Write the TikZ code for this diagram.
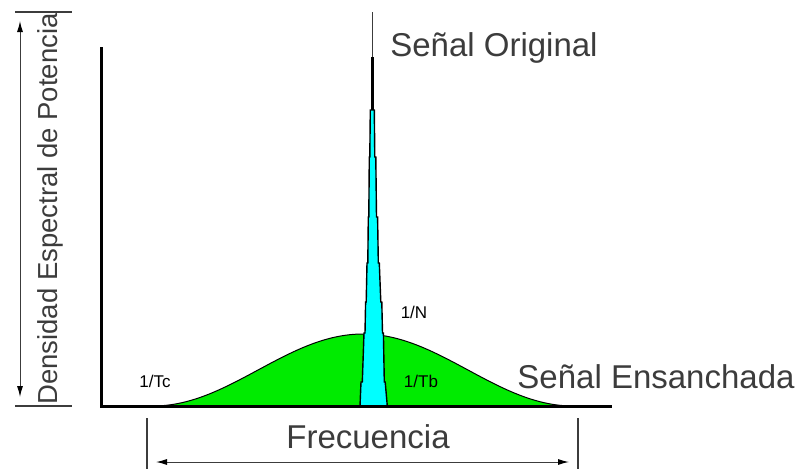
\documentclass[tikz,border=0pt]{standalone}
\usepackage{fontspec}
\setmainfont{Liberation Sans}
\usepackage{tikz}
\usetikzlibrary{positioning, arrows.meta}
\usepackage{xcolor}
\definecolor{bellgreen}{RGB}{0,235,0}
\definecolor{spikecyan}{RGB}{0,255,255}
\definecolor{labelgray}{RGB}{60,60,60}

\tikzset{
  bigtext/.style={text=labelgray, font=\fontsize{33}{38}\selectfont, inner sep=0pt},
  smalltext/.style={text=black, font=\fontsize{17}{20}\selectfont, inner sep=0pt},
  dimtick/.style={labelgray, line width=1.6pt},
  dimline/.style={labelgray, line width=1pt, {Latex[length=11pt,width=6pt,black]}-{Latex[length=11pt,width=6pt,black]}}
}

\begin{document}
\begin{tikzpicture}[x=1pt, y=-1pt]
	\useasboundingbox (0,0) rectangle (801,469);
	% Curve
	\draw[fill=bellgreen, line width=1pt] plot[domain=153:573, samples=90, smooth] (\x, {406-36*(1+cos((\x-363)*6/7))});
	% Spike
	\draw[fill=spikecyan, line width=1.4pt] (360,406) -- (361,382) -- (362.3,382) -- (364,333) -- (365,333) -- (365.6,302) -- (366.2,302)
		-- (367,263) -- (367.8,263) -- (368.3,217) -- (368.8,217) -- (369.3,157) -- (369.8,157) -- (370.3,110)
		-- (374.3,110) -- (374.8,157) -- (375.8,157) -- (376.5,217) -- (377.6,217) -- (378.3,263) -- (379.3,263)
		-- (380.8,302) -- (381.8,302) -- (382.5,333) -- (383.4,333) -- (384.3,382) -- (385.2,382) -- (387.3,406) -- cycle;
	\draw[line width=2.5pt] (372.3,110) -- (372.3,57);
	\draw[labelgray, line width=1pt] (372.3,57) -- (372.3,12);
	% Axes
	\draw[line width=3pt] (101,47) -- (101,406) -- (612,406);
	% Left dimension
	\coordinate (ytop) at (20,12);
	\coordinate (ybot) at (20,406);
	\draw[dimtick] (15,12) -- (72,12);
	\draw[dimtick] (15,406) -- (72,406);
	\draw[dimline] ([yshift=-9pt]ytop) -- ([yshift=9pt]ybot);
	\node[bigtext, rotate=90, font=\fontsize{27.5}{32}\selectfont] (ylabel) at (50,209) {Densidad Espectral de Potencia};
	% Bottom dimension
	\coordinate (xleft) at (147,462);
	\coordinate (xright) at (578,462);
	\draw[dimtick] (147,418) -- (147,469);
	\draw[dimtick] (578,418) -- (578,469);
	\draw[dimline] ([xshift=9pt]xleft) -- ([xshift=-9pt]xright);
	\node[bigtext] (xlabel) at (368,437) {Frecuencia};
	% Labels
	\node[bigtext] (orig) at (494,48) {Señal Original};
	\node[bigtext] (spread) at (656,377) {Señal Ensanchada};
	\node[smalltext] (tc) at (155,381) {1/Tc};
	\node[smalltext] (nn) at (414,312) {1/N};
	\node[smalltext] (tb) at (421,381) {1/Tb};
\end{tikzpicture}
\end{document}
